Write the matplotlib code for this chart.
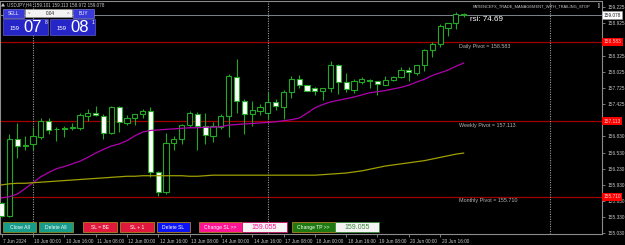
import matplotlib
matplotlib.use("Agg")
import matplotlib.pyplot as plt
from matplotlib.patches import Rectangle, Polygon
from matplotlib.transforms import ScaledTranslation
import numpy as np

plt.rcParams['font.family'] = ['Liberation Sans', 'DejaVu Sans']

# ---------------- data ----------------
bar_index = list(range(-4, 56))
opens = [155.59, 155.36, 156.78, 156.66, 156.69, 156.82, 157.12, 156.97, 156.99, 156.99,
         156.99, 157.20, 157.26, 157.21, 156.89, 157.38, 157.08, 157.17, 157.24, 157.30,
         156.16, 155.80, 156.70, 156.79, 157.05, 157.25, 157.02, 156.84, 157.00, 157.20,
         157.94, 157.49, 157.24, 157.31, 157.27, 157.46, 157.38, 157.65, 157.89, 157.78,
         157.72, 157.68, 157.72, 158.15, 157.83, 157.70, 157.84, 157.88, 157.85, 157.79,
         157.88, 157.93, 158.07, 158.01, 158.15, 158.43, 158.54, 158.85, 158.93, 159.101]
highs = [155.62, 156.87, 157.07, 156.84, 157.00, 157.18, 157.18, 157.01, 157.02, 157.07,
         157.27, 157.33, 157.39, 157.25, 157.40, 157.40, 157.23, 157.25, 157.34, 157.37,
         156.18, 156.90, 156.83, 157.06, 157.30, 157.29, 157.26, 157.10, 157.25, 157.98,
         158.26, 157.52, 157.49, 157.43, 157.65, 157.52, 157.69, 157.95, 157.97, 157.79,
         157.74, 157.73, 158.23, 158.17, 158.01, 157.89, 157.93, 157.90, 157.86, 157.95,
         157.95, 158.12, 158.12, 158.16, 158.46, 158.59, 158.91, 158.94, 159.13, 159.113]
lows = [155.33, 155.33, 156.42, 156.58, 156.58, 156.78, 156.87, 156.75, 156.81, 156.94,
        156.95, 157.12, 157.21, 156.79, 156.88, 156.92, 157.04, 157.04, 157.18, 156.07,
        155.72, 155.76, 156.57, 156.69, 157.01, 156.58, 156.69, 156.72, 156.96, 156.82,
        157.26, 156.87, 157.02, 157.22, 157.15, 157.32, 157.15, 157.54, 157.73, 157.67,
        157.60, 157.50, 157.66, 157.61, 157.65, 157.63, 157.81, 157.72, 157.60, 157.78,
        157.86, 157.91, 157.86, 157.96, 158.05, 158.30, 158.49, 158.69, 158.82, 159.05]
closes = [155.36, 156.78, 156.66, 156.67, 156.84, 157.12, 156.95, 156.96, 156.97, 157.00,
          157.22, 157.26, 157.22, 156.89, 157.38, 157.09, 157.18, 157.24, 157.30, 156.16,
          155.79, 156.70, 156.79, 157.05, 157.26, 157.03, 156.85, 157.02, 157.20, 157.95,
          157.49, 157.25, 157.32, 157.37, 157.46, 157.39, 157.65, 157.89, 157.78, 157.68,
          157.68, 157.72, 158.15, 157.83, 157.71, 157.85, 157.89, 157.85, 157.80, 157.88,
          157.93, 158.07, 158.02, 158.15, 158.43, 158.54, 158.87, 158.93, 159.10, 159.078]

ma_fast = [155.69, 155.71, 155.76, 155.86, 155.97, 156.08, 156.16, 156.23, 156.27, 156.32,
           156.37, 156.44, 156.52, 156.59, 156.65, 156.69, 156.75, 156.84, 156.91, 156.94,
           156.95, 156.96, 156.97, 156.98, 156.99, 156.99, 157.00, 157.00, 157.01, 157.04,
           157.05, 157.06, 157.07, 157.08, 157.09, 157.10, 157.12, 157.14, 157.17, 157.26,
           157.36, 157.42, 157.47, 157.50, 157.53, 157.56, 157.60, 157.64, 157.66, 157.68,
           157.71, 157.74, 157.78, 157.84, 157.89, 157.96, 158.01, 158.06, 158.13, 158.19]
ma_slow = [155.93, 155.95, 155.96, 155.96, 155.97, 155.98, 155.99, 156.00, 156.01, 156.02,
           156.03, 156.04, 156.05, 156.06, 156.07, 156.08, 156.09, 156.09, 156.10, 156.10,
           156.10, 156.10, 156.10, 156.10, 156.09, 156.09, 156.10, 156.11, 156.11, 156.11,
           156.11, 156.11, 156.11, 156.11, 156.11, 156.11, 156.11, 156.11, 156.11, 156.11,
           156.11, 156.12, 156.13, 156.14, 156.15, 156.17, 156.19, 156.22, 156.25, 156.28,
           156.30, 156.32, 156.34, 156.36, 156.38, 156.41, 156.44, 156.47, 156.50, 156.52]

pivot_names = ["Daily Pivot", "Weekly Pivot", "Monthly Pivot"]
pivot_values = [158.583, 157.113, 155.710]
current_price = 159.078
price_ticks = [159.225, 158.925, 158.325, 158.025, 157.725, 157.425,
               156.830, 156.530, 156.230, 155.930, 155.630, 155.330, 155.030]
time_tick_index = [-4, 0, 4, 8, 12, 16, 20, 24, 28, 32, 36, 40, 44, 48, 52]
time_tick_labels = ["7 Jun 2024", "10 Jun 00:00", "10 Jun 16:00", "11 Jun 08:00",
                    "12 Jun 00:00", "12 Jun 16:00", "13 Jun 08:00", "14 Jun 00:00",
                    "14 Jun 16:00", "17 Jun 08:00", "18 Jun 00:00", "18 Jun 16:00",
                    "19 Jun 08:00", "20 Jun 00:00", "20 Jun 16:00"]
separator_index = [0, 30, 66]
rsi_value = 74.69
header = "USDJPY,H4  159.101 159.113 158.972 159.078"
ea_name = "PATIENCEFX_TRADE_MANAGEMENT_WITH_TRAILING_STOP"

# ---------------- figure ----------------
W, H = 625, 245
fig = plt.figure(figsize=(W / 100, H / 100), dpi=100, facecolor='black')
ax = fig.add_axes([0, 10.7 / H, 602.3 / W, (234.3 - 1.5) / H])
ax.set_facecolor('black')
ax.set_xlim(-4.21, 72.71)
ax.set_ylim(155.013, 159.333)

GREEN = '#22a822'
x = np.array(bar_index)
o = np.array(opens); c = np.array(closes); h = np.array(highs); l = np.array(lows)

# pivots and current price line
for pv in pivot_values:
    ax.axhline(pv, color='#a00000', lw=0.9, zorder=1)
ax.axhline(current_price, color='#7c848c', lw=0.7, zorder=1)
for si in separator_index:
    ax.axvline(si, color='#9a9a9a', lw=0.8, ls=(0, (1, 1.2)), zorder=1)

# candles
ax.vlines(x, l, h, color=GREEN, lw=0.8, zorder=3)
bull = c >= o
bottoms = np.minimum(o, c)
heights = np.maximum(np.abs(c - o), 0.004)
ax.bar(x[bull], heights[bull], bottom=bottoms[bull], width=0.66,
       color='black', edgecolor=GREEN, linewidth=0.8, zorder=4)
ax.bar(x[~bull], heights[~bull], bottom=bottoms[~bull], width=0.66,
       color='white', edgecolor=GREEN, linewidth=0.8, zorder=4)

# moving averages
ax.plot(x, ma_fast, color='#b000b0', lw=0.9, zorder=5)
ax.plot(x, ma_slow, color='#a0a000', lw=0.9, zorder=5)

# pivot labels
for name, pv in zip(pivot_names, pivot_values):
    ax.text(54.4, pv - 0.03, f"{name} = {pv:.3f}", color='#b4b4b4', fontsize=3.9,
            ha='left', va='top', zorder=6)

# spines
for s in ax.spines.values():
    s.set_color('#8c8c8c')
    s.set_linewidth(0.8)

# y axis on right
ax.yaxis.tick_right()
ax.set_yticks(price_ticks)
ax.set_yticklabels([f"{p:.3f}" for p in price_ticks])
ax.tick_params(axis='y', colors='#8c8c8c', labelcolor='#c8c8c8', labelsize=3.4,
               length=2, width=0.6, pad=1.5)

# x axis
ax.set_xticks(time_tick_index)
ax.set_xticklabels(time_tick_labels)
ax.tick_params(axis='x', colors='#8c8c8c', labelcolor='#c8c8c8', labelsize=3.4,
               length=2.5, width=0.6, pad=1.2)
offs = ScaledTranslation(1.5 / 100, 0, fig.dpi_scale_trans)
for lbl in ax.get_xticklabels():
    lbl.set_ha('left')
    lbl.set_transform(lbl.get_transform() + offs)

# axis price boxes
yt = ax.get_yaxis_transform()
for pv in pivot_values:
    ax.text(1.0015, pv, f"{pv:.3f}", transform=yt, fontsize=3.4, color='#ffd0d0',
            va='center', ha='left', zorder=10, clip_on=False,
            bbox=dict(boxstyle='square,pad=0.35', fc='#ff0000', ec='#ff0000', lw=0))
ax.text(1.0015, current_price, f"{current_price:.3f}", transform=yt, fontsize=3.4,
        color='#202020', va='center', ha='left', zorder=10, clip_on=False,
        bbox=dict(boxstyle='square,pad=0.35', fc='white', ec='#a0a0a0', lw=0.4))

# ---------------- overlay (pixel coordinates) ----------------
ov = fig.add_axes([0, 0, 1, 1], zorder=10)
ov.set_xlim(0, W); ov.set_ylim(H, 0); ov.axis('off'); ov.patch.set_alpha(0)

# header
ov.add_patch(Polygon([[1, 6.5], [5, 6.5], [3, 3]], closed=True, color='#c8c8c8', lw=0))
ov.text(7, 4.6, header, color='#c8c8c8', fontsize=3.3, va='center', ha='left')
ov.text(473, 6, ea_name, color='#c8c8c8', fontsize=2.9, va='center', ha='left')
ov.text(597.5, 6, "[]", color='#c8c8c8', fontsize=3.4, va='center', ha='left')
ov.text(470, 19.5, f"rsi: {rsi_value:.2f}", color='white', fontsize=5.8, va='center', ha='left')

# trade panel
BLUE = '#2626c8'
ov.add_patch(Rectangle((3, 9.3), 21, 9, fc='#3a3ad8', ec='#9090f0', lw=0.4))
ov.text(13.5, 13.8, "SELL", color='white', fontsize=3.3, ha='center', va='center')
ov.add_patch(Rectangle((73, 9.3), 21, 9, fc='#3a3ad8', ec='#9090f0', lw=0.4))
ov.text(83.5, 13.8, "BUY", color='white', fontsize=3.3, ha='center', va='center')
ov.add_patch(Rectangle((25, 9.3), 47, 8, fc='#f2f2f2', ec='#a0a0a0', lw=0.4))
ov.text(29, 13.3, "˅", color='#707070', fontsize=3.2, ha='center', va='center')
ov.text(68, 13.3, "˄", color='#707070', fontsize=3.2, ha='center', va='center')
ov.text(55, 13.3, "0.04", color='#202020', fontsize=3.4, ha='right', va='center')
for bx0, big, sup in [(3, "07", "8"), (50, "08", "1")]:
    ov.add_patch(Rectangle((bx0, 18.8), 44.5, 16.5, fc=BLUE, ec='#7070e0', lw=0.4))
    ov.text(bx0 + 7, 30.5, "159", color='white', fontsize=4.3, ha='left', va='baseline')
    ov.text(bx0 + 20, 32.5, big, color='white', fontsize=12, ha='left', va='baseline')
    ov.text(bx0 + 41.5, 23, sup, color='white', fontsize=3.6, ha='left', va='center')

# bottom buttons
buttons = [("Close All", 3, 36, '#179c8c', '#8c8c20', 'white'),
           ("Delete All", 39, 73, '#179c8c', '#8c8c20', 'white'),
           ("SL = BE", 83, 117, '#e0183c', '#b08020', 'white'),
           ("SL + 1", 120, 154, '#e0183c', '#b08020', 'white'),
           ("Delete SL", 157, 190, '#0c14f4', '#b08020', 'white'),
           ("Change SL >>", 199, 242, '#ff1493', '#b08020', 'white'),
           ("159.055", 242, 287, '#f4f4f4', '#c01060', '#ff1493'),
           ("Change TP >>", 292, 335, '#1e7a10', '#b08020', 'white'),
           ("159.055", 335, 379, '#f4f4f4', '#3a8a3a', '#3a8a3a')]
for label, x0, x1, fc, ec, tc in buttons:
    ov.add_patch(Rectangle((x0, 222.3), x1 - x0, 10, fc=fc, ec=ec, lw=0.6))
    fs = 5.0 if label[0].isdigit() else 3.6
    ov.text((x0 + x1) / 2, 227.4, label, color=tc, fontsize=fs, ha='center', va='center')

fig.savefig("out.png", dpi=100, facecolor='black')
